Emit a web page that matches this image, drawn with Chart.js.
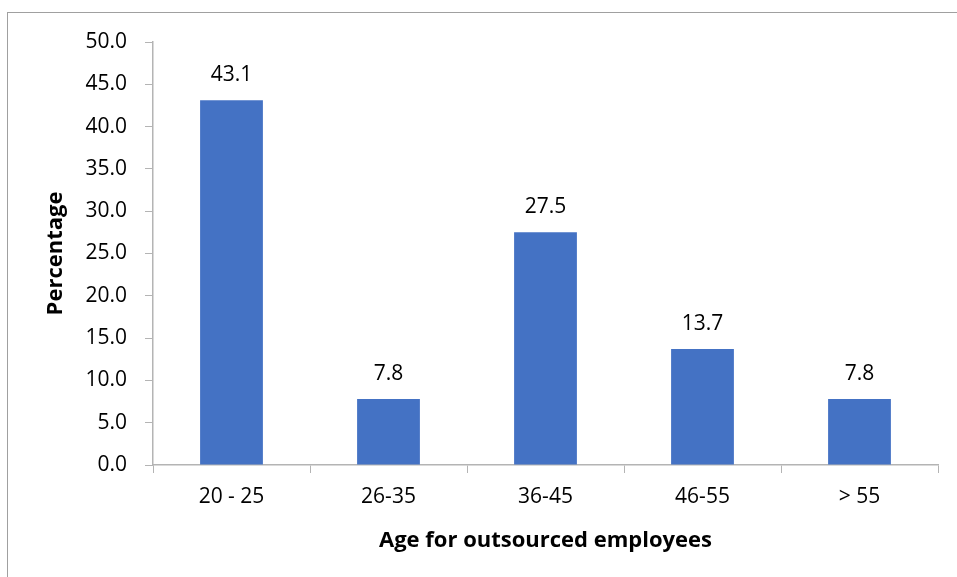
<!DOCTYPE html>
<html>
<head>
<meta charset="utf-8">
<script src="https://cdn.jsdelivr.net/npm/chart.js@4/dist/chart.umd.min.js"></script>
<style>
  html, body { margin: 0; padding: 0; background: #fff; }
  #wrap { width: 957px; height: 577px; position: relative; }
</style>
</head>
<body>
<div id="wrap"><canvas id="c" width="957" height="577"></canvas></div>
<script>
// Age groups and share of outsourced employees (%)
const ageGroups = ['20 - 25', '26-35', '36-45', '46-55', '> 55'];
const percentages = [43.1, 7.8, 27.5, 13.7, 7.8];
const yTicks = { min: 0, max: 50, step: 5 };

const FONT = '"Open Sans", Lato, sans-serif';
const AXIS = '#B4B4B4';

// Light frame around the whole chart
const framePlugin = {
  id: 'frame',
  beforeDraw(chart) {
    const ctx = chart.ctx;
    ctx.save();
    ctx.strokeStyle = '#A0A0A0';
    ctx.lineWidth = 1;
    ctx.strokeRect(7.5, 12.5, chart.width + 50, chart.height + 50);
    ctx.restore();
  }
};

// Value labels above each bar
const valueLabels = {
  id: 'valueLabels',
  afterDatasetsDraw(chart) {
    const ctx = chart.ctx;
    const meta = chart.getDatasetMeta(0);
    ctx.save();
    ctx.fillStyle = '#000';
    ctx.font = '21px ' + FONT;
    ctx.textAlign = 'center';
    ctx.textBaseline = 'middle';
    meta.data.forEach((bar, i) => {
      const v = chart.data.datasets[0].data[i];
      ctx.fillText(v.toFixed(1), bar.x, bar.y - 25);
    });
    ctx.restore();
  }
};

new Chart(document.getElementById('c'), {
  type: 'bar',
  data: {
    labels: ageGroups,
    datasets: [{
      data: percentages,
      backgroundColor: '#4472C4',
      borderWidth: 0,
      barPercentage: 0.4,
      categoryPercentage: 1.0
    }]
  },
  options: {
    responsive: false,
    animation: false,
    layout: { padding: { top: 42, right: 19, left: 0, bottom: 0 } },
    plugins: { legend: { display: false }, tooltip: { enabled: false } },
    scales: {
      x: {
        grid: { display: true, drawOnChartArea: false, drawTicks: true, tickLength: 8, color: AXIS, offset: true },
        border: { display: true, color: AXIS, width: 1.5 },
        ticks: { color: '#000', font: { family: FONT, size: 21 }, padding: 11, maxRotation: 0 },
        title: {
          display: true,
          text: 'Age for outsourced employees',
          color: '#000',
          font: { family: FONT, size: 22, weight: 'bold' },
          padding: { top: 0, bottom: 23 }
        },
        afterFit(scale) { scale.height = 112; }
      },
      y: {
        min: yTicks.min,
        max: yTicks.max,
        grid: { display: true, drawOnChartArea: false, drawTicks: true, tickLength: 8, color: AXIS },
        border: { display: true, color: AXIS, width: 1.5 },
        ticks: {
          stepSize: yTicks.step,
          color: '#000',
          font: { family: FONT, size: 21 },
          padding: 18,
          callback: v => Number(v).toFixed(1)
        },
        title: {
          display: true,
          text: 'Percentage',
          color: '#000',
          font: { family: FONT, size: 22, weight: 'bold' },
          padding: { top: 43, bottom: 0 }
        },
        afterFit(scale) { scale.width = 153; }
      }
    }
  },
  plugins: [framePlugin, valueLabels]
});
</script>
</body>
</html>
